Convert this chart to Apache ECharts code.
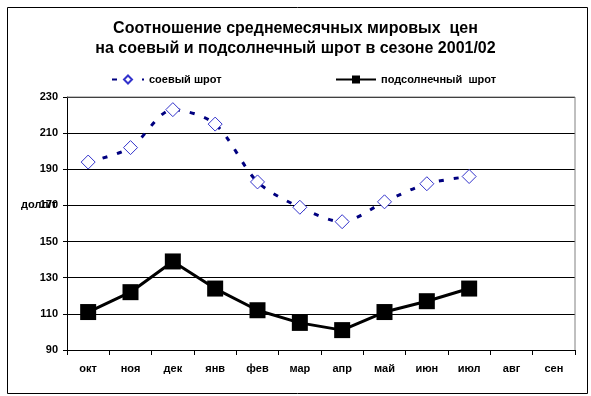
<!DOCTYPE html>
<html>
<head>
<meta charset="utf-8">
<script src="https://cdn.jsdelivr.net/npm/echarts@6/dist/echarts.min.js"></script>
<style>
html,body{margin:0;padding:0;background:#fff;}
#chart{width:591px;height:396px;}
</style>
</head>
<body>
<div id="chart"></div>
<script>
const titleLines = ['Соотношение среднемесячных мировых  цен', 'на соевый и подсолнечный шрот в сезоне 2001/02'];
const categories = ['окт','ноя','дек','янв','фев','мар','апр','май','июн','июл','авг','сен'];
const soyName = 'соевый шрот';
const sunName = 'подсолнечный  шрот';
const soyValues = [194, 202, 223, 215, 183, 169, 161, 172, 182, 186, null, null];
const sunValues = [111, 122, 139, 124, 112, 105, 101, 111, 117, 124, null, null];
const yMin = 90, yMax = 230, yStep = 20;
const yUnit = 'долл/т';

const FONT = '"Liberation Sans", Arial, sans-serif';
const chart = echarts.init(document.getElementById('chart'));
chart.setOption({
  animation: false,
  backgroundColor: '#fff',
  title: {
    text: titleLines.join('\n'),
    left: 'center',
    top: 14,
    textStyle: { fontFamily: FONT, fontWeight: 'bold', fontSize: 16, lineHeight: 20, color: '#000' }
  },
  legend: [
    {
      data: [soyName], left: 111, top: 74, padding: 0, itemWidth: 32, itemHeight: 10, itemGap: 5,
      textStyle: { fontFamily: FONT, fontWeight: 'bold', fontSize: 11, color: '#000' }
    },
    {
      data: [sunName], left: 335, top: 74, padding: 0, itemWidth: 40, itemHeight: 10, itemGap: 1,
      textStyle: { fontFamily: FONT, fontWeight: 'bold', fontSize: 11, color: '#000' }
    }
  ],
  grid: { left: 67, right: 16, top: 97, bottom: 46, containLabel: false },
  xAxis: {
    type: 'category',
    data: categories,
    boundaryGap: true,
    axisLine: { lineStyle: { color: '#000', width: 1 } },
    axisTick: { show: true, length: 5, lineStyle: { color: '#000' } },
    axisLabel: { fontFamily: FONT, fontWeight: 'bold', fontSize: 11, color: '#000', margin: 13 },
    splitLine: { show: false }
  },
  yAxis: {
    type: 'value',
    min: yMin, max: yMax, interval: yStep,
    axisLine: { show: true, lineStyle: { color: '#000', width: 1 } },
    axisTick: { show: true, length: 4, lineStyle: { color: '#000' } },
    axisLabel: { fontFamily: FONT, fontWeight: 'bold', fontSize: 11, color: '#000', margin: 9 },
    splitLine: { show: true, lineStyle: { color: '#000', width: 1 } }
  },
  graphic: [
    { type: 'rect', left: 5, top: 5, shape: { width: 580, height: 386 }, style: { fill: null, stroke: '#000', lineWidth: 1 }, silent: true },
    { type: 'line', shape: { x1: 67, y1: 97, x2: 575, y2: 97 }, style: { stroke: '#808080', lineWidth: 1 }, z: 5 },
    { type: 'line', shape: { x1: 575, y1: 97, x2: 575, y2: 350 }, style: { stroke: '#808080', lineWidth: 1 }, z: 5 },
    { type: 'text', left: 21, top: 199, style: { text: yUnit, font: 'bold 11px ' + FONT, fill: '#000' }, z: 10 }
  ],
  series: [
    {
      name: soyName,
      type: 'line',
      data: soyValues,
      smooth: 0.3,
      connectNulls: false,
      symbol: 'diamond',
      symbolSize: 14,
      itemStyle: { color: '#fff', borderColor: '#3333cc', borderWidth: 1 },
      lineStyle: { color: '#000080', width: 3, type: [5, 10] },
      z: 3
    },
    {
      name: sunName,
      type: 'line',
      data: sunValues,
      symbol: 'rect',
      symbolSize: 16,
      itemStyle: { color: '#000', borderColor: '#000', borderWidth: 0 },
      lineStyle: { color: '#000', width: 3 },
      z: 4
    }
  ]
});
</script>
</body>
</html>
